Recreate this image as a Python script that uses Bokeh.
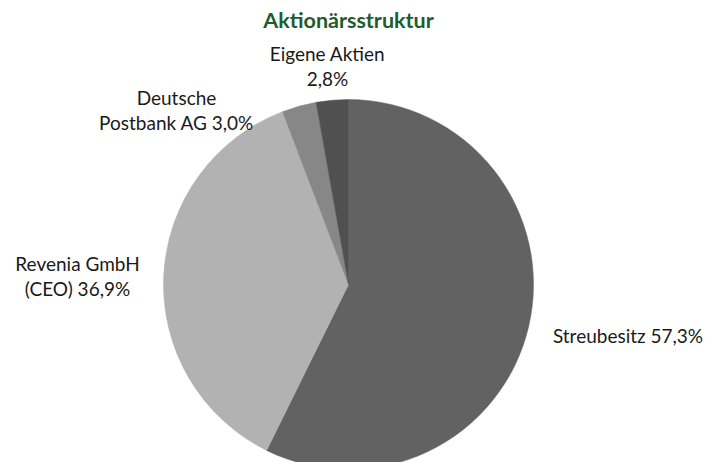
import math
from bokeh.plotting import figure
from bokeh.models import ColumnDataSource, Range1d
from bokeh.core.properties import value
from bokeh.embed import file_html
from bokeh.resources import INLINE

# ---- data ----
title_text = "Aktionärsstruktur"
categories = ["Streubesitz", "Revenia GmbH (CEO)", "Deutsche Postbank AG", "Eigene Aktien"]
shares = [57.3, 36.9, 3.0, 2.8]
colors = ["#626262", "#b2b2b2", "#878787", "#505050"]
# how each label is broken into lines (layout)
label_line_1 = ["Streubesitz", "Revenia GmbH", "Deutsche", "Eigene Aktien"]
label_line_2 = ["", "(CEO)", "Postbank AG", ""]

# ---- layout (pixel coordinates of the plot) ----
W, H = 709, 462
cx, cy, R = 348, 178, 185
# anchor (center x, baseline y of first line) for each label
label_anchor = [(627.5, 127), (77, 199), (176, 365), (327, 409)]
line_gap = 25
font = "Lato"
font_size = "19px"
title_size = "21.5px"

def fmt(v):
    return ("%.1f" % v).replace(".", ",") + "%"

p = figure(width=W, height=H, output_backend="svg", toolbar_location=None,
           x_range=Range1d(0, W), y_range=Range1d(0, H), min_border=0)
p.axis.visible = False
p.grid.visible = False
p.outline_line_color = None
p.background_fill_color = "white"
p.border_fill_color = "white"

total = sum(shares)
starts, ends = [], []
acc = 0.0
for s in shares:
    starts.append(math.pi / 2 - acc / total * 2 * math.pi)
    acc += s
    ends.append(math.pi / 2 - acc / total * 2 * math.pi)

src = ColumnDataSource(dict(start=starts, end=ends, color=colors, cat=categories))
p.wedge(x=cx, y=cy, radius=R, start_angle="start", end_angle="end", direction="clock",
        fill_color="color", line_color="color", line_width=0.5, source=src)

# labels
xs, ys, texts = [], [], []
for i in range(len(categories)):
    ax, ay = label_anchor[i]
    pct = fmt(shares[i])
    if label_line_2[i] == "":
        if i == 0:
            xs.append(ax); ys.append(ay); texts.append(label_line_1[i] + " " + pct)
        else:
            xs.append(ax); ys.append(ay); texts.append(label_line_1[i])
            xs.append(ax); ys.append(ay - line_gap); texts.append(pct)
    else:
        xs.append(ax); ys.append(ay); texts.append(label_line_1[i])
        xs.append(ax); ys.append(ay - line_gap); texts.append(label_line_2[i] + " " + pct)

lsrc = ColumnDataSource(dict(x=xs, y=ys, t=texts))
p.text(x="x", y="y", text="t", source=lsrc, text_align="center", text_baseline="alphabetic",
       text_font=value(font), text_font_size=font_size, text_color="#1a1a1a")

# title
p.text(x=[348], y=[443], text=[title_text], text_align="center", text_baseline="alphabetic",
       text_font=value(font), text_font_size=title_size, text_font_style="bold",
       text_color="#1e5c2c")

open("out.html", "w").write(file_html(p, INLINE))
